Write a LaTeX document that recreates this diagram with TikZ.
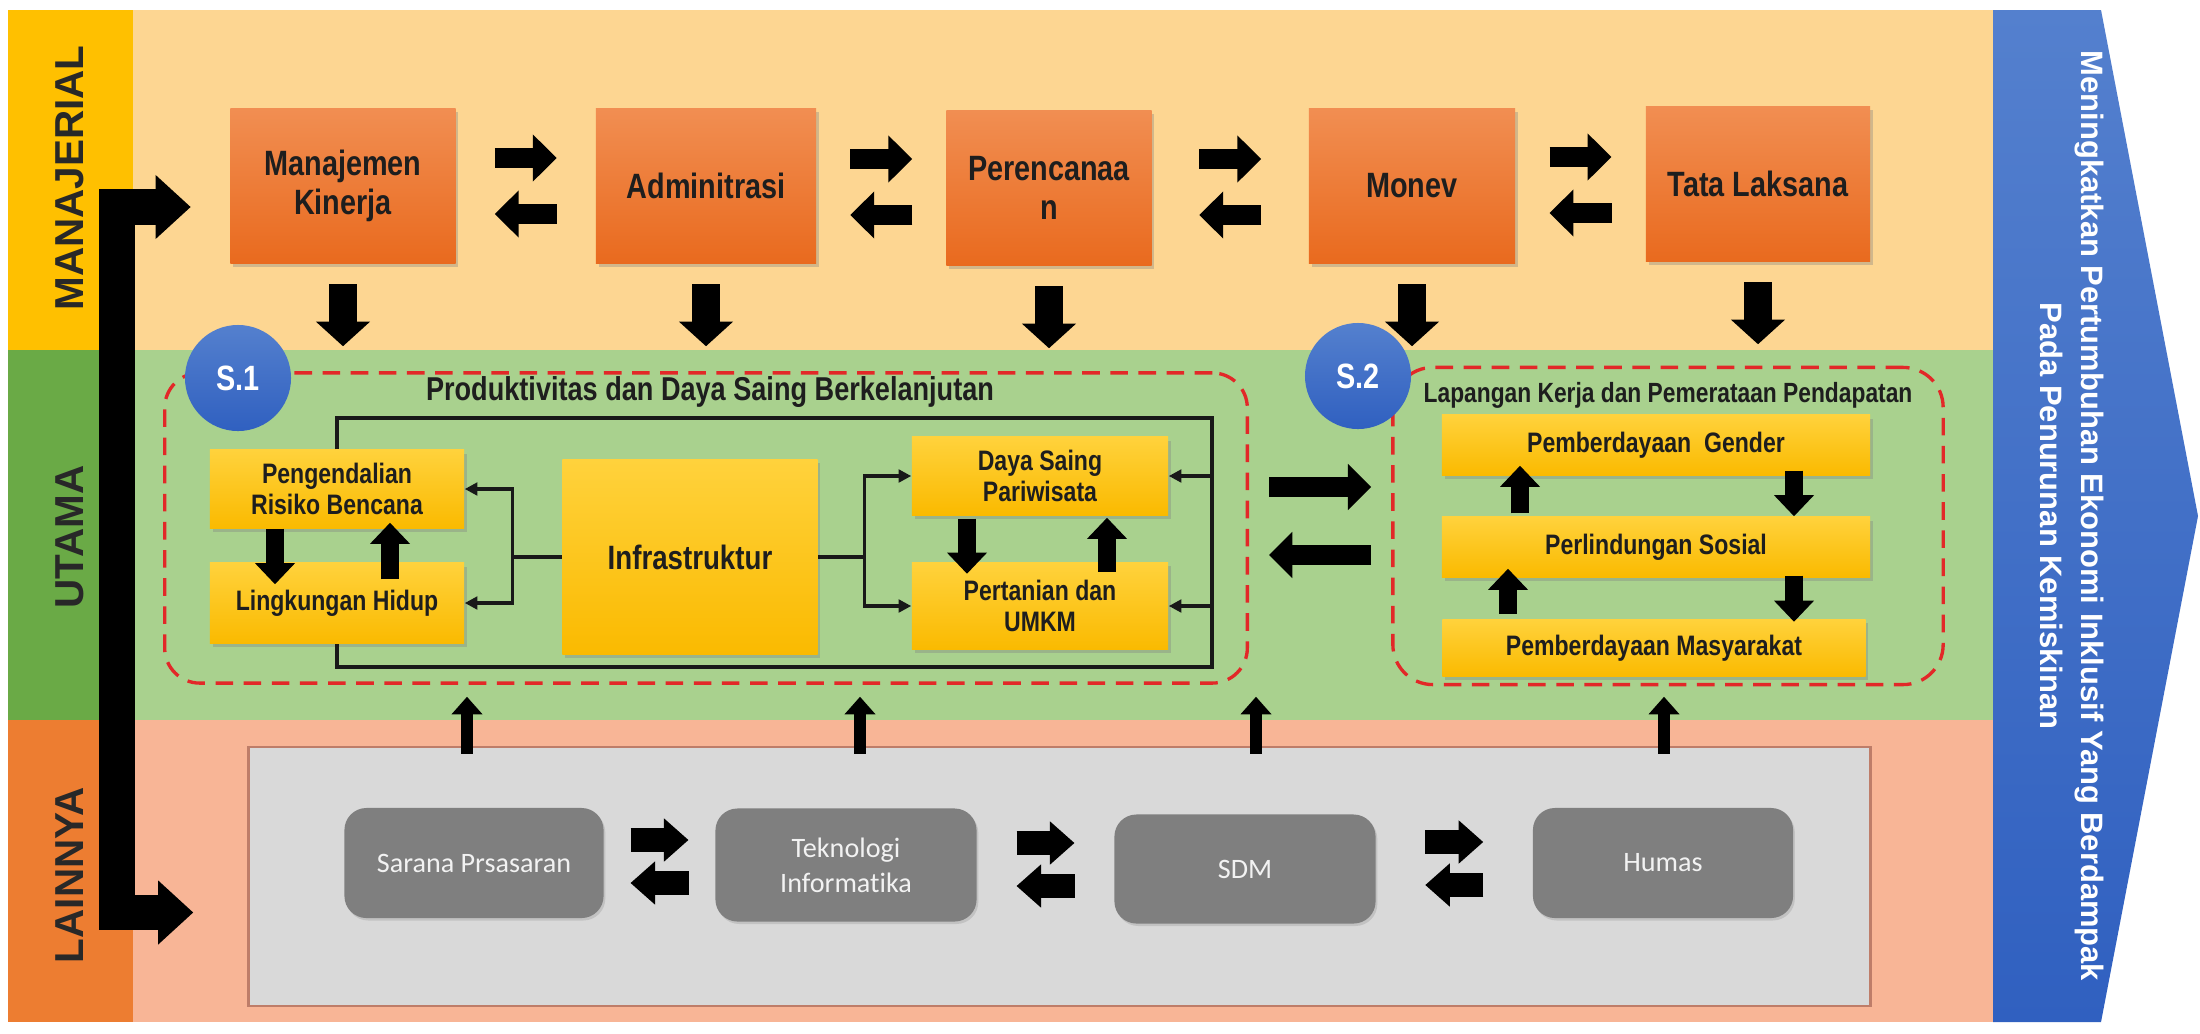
\documentclass[tikz,border=0pt]{standalone}
\usepackage{fontspec}
\setmainfont{Liberation Sans}
\newfontfamily\narrowfont[FakeStretch=0.82]{Liberation Sans}
\newfontfamily\calfont[Ligatures=NoCommon]{Carlito}
\usetikzlibrary{arrows.meta, shadows}
\definecolor{mgrbg}{RGB}{253,214,146}
\definecolor{utbg}{RGB}{169,209,142}
\definecolor{lnbg}{RGB}{248,181,150}
\definecolor{mgrtab}{RGB}{255,192,0}
\definecolor{uttab}{RGB}{106,170,70}
\definecolor{lntab}{RGB}{237,125,49}
\definecolor{goaltop}{RGB}{84,128,206}
\definecolor{goalbot}{RGB}{48,96,192}
\definecolor{orgtop}{RGB}{241,142,82}
\definecolor{orgbot}{RGB}{233,106,30}
\definecolor{ylwtop}{RGB}{255,210,60}
\definecolor{ylwbot}{RGB}{250,186,0}
\definecolor{boxgray}{RGB}{127,127,127}
\definecolor{panelgray}{RGB}{217,217,217}
\definecolor{paneledge}{RGB}{190,125,105}
\definecolor{dashred}{RGB}{226,40,40}
\definecolor{boxtext}{RGB}{30,30,30}
\definecolor{labeltext}{RGB}{40,40,40}

\begin{document}
\begin{tikzpicture}[x=0.01cm, y=-0.01cm,
    bandtab/.style={rotate=90, text=labeltext, font=\bfseries\fontsize{11.5}{13}\selectfont},
    mgrbox/.style={rectangle, top color=orgtop, bottom color=orgbot, minimum height=1.55cm, align=center, text=boxtext, font=\narrowfont\bfseries\fontsize{10}{11}\selectfont, drop shadow={shadow xshift=0.8pt, shadow yshift=-1pt, opacity=.35}},
    progbox/.style={rectangle, top color=ylwtop, bottom color=ylwbot, align=center, text=boxtext, font=\narrowfont\bfseries\fontsize{8}{8.6}\selectfont, drop shadow={shadow xshift=0.8pt, shadow yshift=-1pt, opacity=.35}},
    supbox/.style={rectangle, rounded corners=0.22cm, fill=boxgray, align=center, text=white!95!black, font=\calfont\fontsize{8}{10}\selectfont, drop shadow={shadow xshift=0.5pt, shadow yshift=-0.7pt, opacity=.25}},
    stgcircle/.style={circle, minimum size=1.06cm, top color=goaltop, bottom color=goalbot, text=white, font=\narrowfont\bfseries\fontsize{10}{12}\selectfont},
    stgframe/.style={rectangle, draw=dashred, line width=0.95pt, dash pattern=on 5pt off 3pt, rounded corners=0.35cm},
    stgtitle/.style={text=boxtext, font=\narrowfont\bfseries\fontsize{9.4}{11}\selectfont},
    link/.style={draw=black!90, line width=1pt},
    linkarrow/.style={link, -{Triangle[length=3.6pt, width=3.6pt]}},
    pairarrow/.style={line width=5.7pt, -{Triangle[length=6.8pt, width=13pt]}},
    downarrow/.style={line width=7.7pt, -{Triangle[length=7pt, width=15pt]}},
    widearrow/.style={line width=5.7pt, -{Triangle[length=6.6pt, width=12.8pt]}},
    innerarrow/.style={line width=5pt, -{Triangle[length=6pt, width=11pt]}},
    suparrow/.style={line width=6.6pt, -{Triangle[length=7pt, width=11.9pt]}},
    uparrow/.style={line width=3.3pt, -{Triangle[length=5pt, width=8.5pt]}},
    spine/.style={line width=10pt, -{Triangle[length=10pt, width=17.6pt]}}]

    \fill[white] (0,0) rectangle (2200,1033);
    \useasboundingbox (0,0) rectangle (2200,1033);

    % bands
    \fill[mgrbg] (133,10) rectangle (1993,350);
    \fill[utbg] (133,350) rectangle (1993,720);
    \fill[lnbg] (133,720) rectangle (1993,1022);
    \fill[mgrtab] (8,10) rectangle (133,350);
    \fill[uttab] (8,350) rectangle (133,720);
    \fill[lntab] (8,720) rectangle (133,1022);
    \node[bandtab] (tabm) at (70,178) {MANAJERIAL};
    \node[bandtab] (tabu) at (70,537) {UTAMA};
    \node[bandtab] (tabl) at (70,875) {LAINNYA};

    % goal
    \shade[top color=goaltop, bottom color=goalbot] (1993,10) -- (2101,10) -- (2198,516) -- (2101,1022) -- (1993,1022) -- cycle;
    \node[rotate=-90, align=center, text=white, font=\bfseries\fontsize{8.8}{11.7}\selectfont] (goal) at (2072,516)
        {Meningkatkan Pertumbuhan Ekonomi Inklusif Yang Berdampak\\Pada Penurunan Kemiskinan};

    % manajerial
    \node[mgrbox, minimum width=2.25cm] (mk) at (343,186) {Manajemen\\Kinerja};
    \node[mgrbox, minimum width=2.20cm] (ad) at (706,186) {Adminitrasi};
    \node[mgrbox, minimum width=2.05cm] (pe) at (1049,188) {Perencanaa\\n};
    \node[mgrbox, minimum width=2.06cm] (mo) at (1412,186) {Monev};
    \node[mgrbox, minimum width=2.24cm] (tl) at (1758,184) {Tata Laksana};

    % S.1
    \node[stgframe, minimum width=10.82cm, minimum height=3.10cm] (s1box) at (706,528) {};
    \node[stgcircle] (s1) at (238,378) {S.1};
    \node[stgtitle] (s1t) at (710,392) {Produktivitas dan Daya Saing Berkelanjutan};
    \node[progbox, minimum width=2.54cm, minimum height=0.78cm] (prb) at (337,489) {Pengendalian\\Risiko Bencana};
    \node[progbox, minimum width=2.54cm, minimum height=0.80cm] (lhd) at (337,603) {Lingkungan Hidup};
    \node[progbox, minimum width=2.55cm, minimum height=1.95cm, font=\narrowfont\bfseries\fontsize{9.6}{11}\selectfont] (infra) at (690,557) {Infrastruktur};
    \node[progbox, minimum width=2.56cm, minimum height=0.78cm] (dsp) at (1040,476) {Daya Saing\\Pariwisata};
    \node[progbox, minimum width=2.56cm, minimum height=0.87cm] (pum) at (1040,606) {Pertanian dan\\UMKM};

    \draw[link] (infra.west) -- ++(-49,0) coordinate (jl);
    \draw[linkarrow] (jl) |- (prb.east);
    \draw[linkarrow] (jl) |- (lhd.east);
    \draw[link] (infra.east) -- ++(46,0) coordinate (jr);
    \draw[linkarrow] (jr) |- (dsp.west);
    \draw[linkarrow] (jr) |- (pum.west);
    \coordinate (frt) at (1212,418);
    \coordinate (frb) at (1212,667);
    \draw[link] (prb.north) |- (frt) -- (frb) -| (lhd.south);
    \draw[linkarrow] (frt |- dsp.east) -- (dsp.east);
    \draw[linkarrow] (frt |- pum.east) -- (pum.east);

    \draw[innerarrow] ([shift={(-62,0)}]prb.south) -- ([shift={(-62,22)}]lhd.north);
    \draw[innerarrow] ([shift={(53,17)}]lhd.north) -- ([shift={(53,-6)}]prb.south);
    \draw[innerarrow] ([shift={(-73,3)}]dsp.south) -- ([shift={(-73,12)}]pum.north);
    \draw[innerarrow] ([shift={(67,10)}]pum.north) -- ([shift={(67,2)}]dsp.south);

    % S.2
    \node[stgframe, minimum width=5.50cm, minimum height=3.17cm, rounded corners=0.4cm] (s2box) at (1668,526) {};
    \node[stgcircle] (s2) at (1358,376) {S.2};
    \node[stgtitle, font=\narrowfont\bfseries\fontsize{7.9}{9}\selectfont] (s2t) at (1668,395) {Lapangan Kerja dan Pemerataan Pendapatan};
    \node[progbox, minimum width=4.28cm, minimum height=0.60cm] (gen) at (1656,445) {Pemberdayaan\ \ Gender};
    \node[progbox, minimum width=4.28cm, minimum height=0.60cm] (sos) at (1656,547) {Perlindungan Sosial};
    \node[progbox, minimum width=4.23cm, minimum height=0.57cm] (mas) at (1654,648) {Pemberdayaan Masyarakat};

    \draw[innerarrow] ([shift={(-136,-3)}]sos.north) -- ([shift={(-136,-10)}]gen.south);
    \draw[innerarrow] ([shift={(-146,-5)}]mas.north) -- ([shift={(-148,-9)}]sos.south);
    \draw[innerarrow] ([shift={(138,-5)}]gen.south) -- ([shift={(138,0)}]sos.north);
    \draw[innerarrow] ([shift={(138,-2)}]sos.south) -- ([shift={(140,3)}]mas.north);

    % S.1 <-> S.2
    \path (s1box.east) -- (s2box.west) coordinate[midway] (mid);
    \draw[widearrow] ([shift={(-51,-40)}]mid) -- ([shift={(51,-40)}]mid);
    \draw[widearrow] ([shift={(51,28)}]mid) -- ([shift={(-51,28)}]mid);

    % lainnya
    \node[rectangle, fill=panelgray, draw=paneledge, line width=0.7pt, minimum width=16.21cm, minimum height=2.59cm] (panel) at (1059.5,876.5) {};
    \node[supbox, minimum width=2.59cm, minimum height=1.10cm] (sp) at (474,863) {Sarana Prsasaran};
    \node[supbox, minimum width=2.61cm, minimum height=1.13cm] (ti) at (846,865) {Teknologi\\Informatika};
    \node[supbox, minimum width=2.61cm, minimum height=1.09cm] (sdm) at (1245,869) {SDM};
    \node[supbox, minimum width=2.60cm, minimum height=1.10cm] (hum) at (1663,863) {Humas};

    \foreach \a/\b in {sp/ti, ti/sdm, sdm/hum} {
        \path (\a.east) -- (\b.west) coordinate[midway] (gap);
        \draw[suparrow] ([shift={(-29,-24)}]gap) -- ([shift={(29,-24)}]gap);
        \draw[suparrow] ([shift={(29,19)}]gap) -- ([shift={(-29,19)}]gap);
    }
    \foreach \x in {467, 860, 1256, 1664}
        \draw[uparrow, shorten <=-2.3pt, shorten >=3.4pt] (\x,0 |- panel.north) -- (\x,0 |- s1box.south);

    % manajerial arrows
    \foreach \a/\b in {mk/ad, ad/pe, pe/mo, mo/tl} {
        \path (\a.east) -- (\b.west) coordinate[midway] (gap);
        \draw[pairarrow] ([shift={(-31,-28)}]gap) -- ([shift={(31,-28)}]gap);
        \draw[pairarrow] ([shift={(31,28)}]gap) -- ([shift={(-31,28)}]gap);
    }
    \foreach \n in {mk, ad, pe, mo, tl}
        \draw[downarrow] ([shift={(0,20)}]\n.south) -- ([shift={(0,82)}]\n.south);

    % spine
    \coordinate (spinemid) at (117,560);
    \draw[spine] (spinemid) |- ([shift={(-39,21)}]mk.west);
    \draw[spine] (spinemid) |- ([shift={(-54,36)}]panel.west);
\end{tikzpicture}
\end{document}
